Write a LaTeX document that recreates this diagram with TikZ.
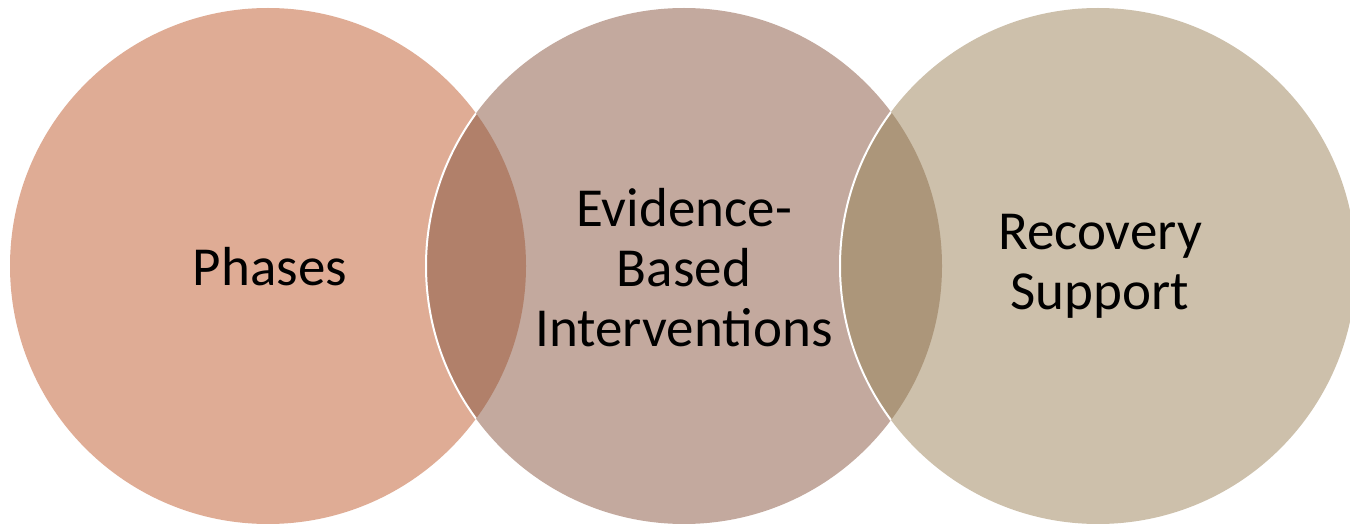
\documentclass[tikz,border=0pt]{standalone}
\usepackage{fontspec}
\setmainfont{Carlito}
\usepackage{tikz}
\usetikzlibrary{positioning}

\definecolor{phasecol}{RGB}{223,172,149}
\definecolor{evidcol}{RGB}{195,169,158}
\definecolor{recovcol}{RGB}{205,192,171}
\definecolor{lapone}{RGB}{177,128,106}
\definecolor{laptwo}{RGB}{172,150,122}

\begin{document}
\begin{tikzpicture}[x=1pt,y=-1pt,
 ring/.style={circle, minimum size=516pt, inner sep=0pt},
 label text/.style={font=\fontsize{55}{60}\selectfont, align=center, text=black}]
  \useasboundingbox (0,0) rectangle (1350,524);

  % the three circles
  \node[ring, fill=phasecol] (phases) at (268,266) {};
  \node[ring, fill=evidcol] (evid) at (684,266) {};
  \node[ring, fill=recovcol] (recov) at (1098,266) {};

  % overlaps
  \begin{scope}
   \clip (phases.center) circle (258pt);
   \fill[lapone] (evid.center) circle (258pt);
   \draw[white, line width=2pt] (evid.center) circle (258pt);
  \end{scope}
  \begin{scope}
   \clip (evid.center) circle (258pt);
   \fill[laptwo] (recov.center) circle (258pt);
   \draw[white, line width=2pt] (recov.center) circle (258pt);
  \end{scope}

  % labels
  \node[label text] (t1) at ([xshift=2pt,yshift=-1pt]phases.center) {Phases};
  \node[label text] (t2) at ([yshift=-2pt]evid.center) {Evidence-\\Based\\Interventions};
  \node[label text] (t3) at ([xshift=2pt]recov.center) {Recovery\\Support};
 \end{tikzpicture}
\end{document}
